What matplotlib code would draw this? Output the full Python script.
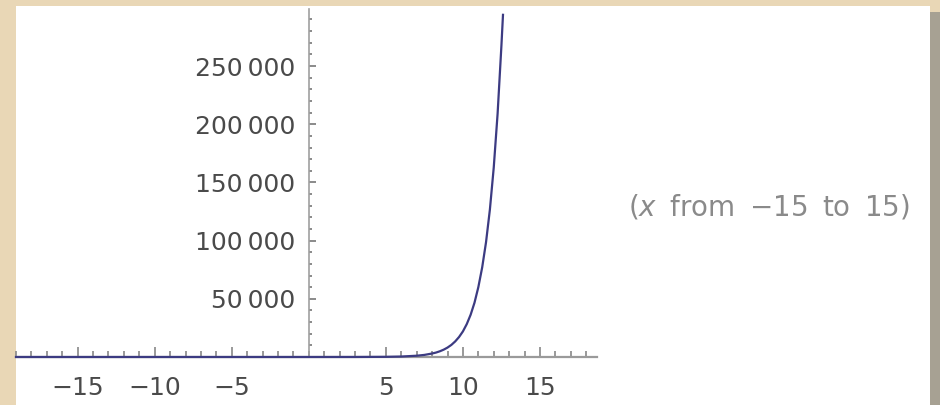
import matplotlib.pyplot as plt
from matplotlib.patches import Rectangle
from matplotlib.ticker import MultipleLocator, FuncFormatter

# values
x_vals = [-19, -15, -10, -5, 0, 3, 5, 6, 7, 7.5, 8, 8.25, 8.5, 8.75, 9, 9.25, 9.5,
          9.75, 10, 10.25, 10.5, 10.75, 11, 11.25, 11.5, 11.75, 12, 12.25, 12.5, 12.6]
y_vals = [0, 0, 0, 0, 0, 20, 150, 400, 1100, 1800, 3000, 3800, 4900, 6300, 8100,
          10400, 13400, 17200, 22000, 28300, 36300, 46600, 60000, 77000, 98700,
          126700, 162800, 209000, 268000, 294000]

x_ticks = [-15, -10, -5, 5, 10, 15]
y_ticks = [50000, 100000, 150000, 200000, 250000]
note = "($x$\u2009 from\u2009 \u221215\u2009 to\u2009 15)"

W, H = 940, 405
fig = plt.figure(figsize=(W / 100, H / 100), dpi=100)
fig.patch.set_facecolor('#e9d7b6')

# background: white panel and right shadow
bg = fig.add_axes([0, 0, 1, 1], zorder=-5)
bg.set_xlim(0, W)
bg.set_ylim(H, 0)
bg.axis('off')
bg.add_patch(Rectangle((16, 6), 930 - 16, H - 6, facecolor='white', edgecolor='none'))
bg.add_patch(Rectangle((930, 12), 10, H - 12, facecolor='#a7a193', edgecolor='none'))

ax = fig.add_axes([16 / W, (H - 357) / H, (597 - 16) / W, (357 - 9) / H], zorder=1)
ax.set_facecolor('none')
ax.plot(x_vals, y_vals, color='#3c3b82', lw=1.6, clip_on=False, zorder=3)

ax.set_xlim(-19.0, 18.7)
ax.set_ylim(0, 299000)

for s in ['top', 'right']:
    ax.spines[s].set_visible(False)
ax.spines['left'].set_position(('data', 0))
ax.spines['left'].set_color('#a0a0a0')
ax.spines['left'].set_linewidth(1.2)
ax.spines['bottom'].set_color('#9a9a9a')
ax.spines['bottom'].set_linewidth(1.6)

ax.set_xticks(x_ticks)
ax.xaxis.set_minor_locator(MultipleLocator(1))
ax.set_yticks(y_ticks)
ax.yaxis.set_minor_locator(MultipleLocator(10000))
ax.xaxis.set_major_formatter(FuncFormatter(lambda v, p: f"{int(v)}".replace('-', '\u2212')))
ax.yaxis.set_major_formatter(FuncFormatter(lambda v, p: f"{int(v):,}".replace(',', '\u2009')))

ax.tick_params(axis='x', which='major', direction='in', length=7.5, width=1.2,
               color='#888888', labelsize=18, labelcolor='#4a4a4a', pad=14)
ax.tick_params(axis='x', which='minor', direction='in', length=4.5, width=1.2,
               color='#888888')
ax.tick_params(axis='y', which='major', direction='in', length=5, width=1.2,
               color='#777777', labelsize=18, labelcolor='#4a4a4a', pad=10)
ax.tick_params(axis='y', which='minor', direction='in', length=2.5, width=1.2,
               color='#777777')

fig.text(628 / W, 1 - 207 / H, note, fontsize=20, color='#8a8a8a',
         ha='left', va='center')

fig.savefig('out.png', dpi=100, facecolor=fig.get_facecolor())
